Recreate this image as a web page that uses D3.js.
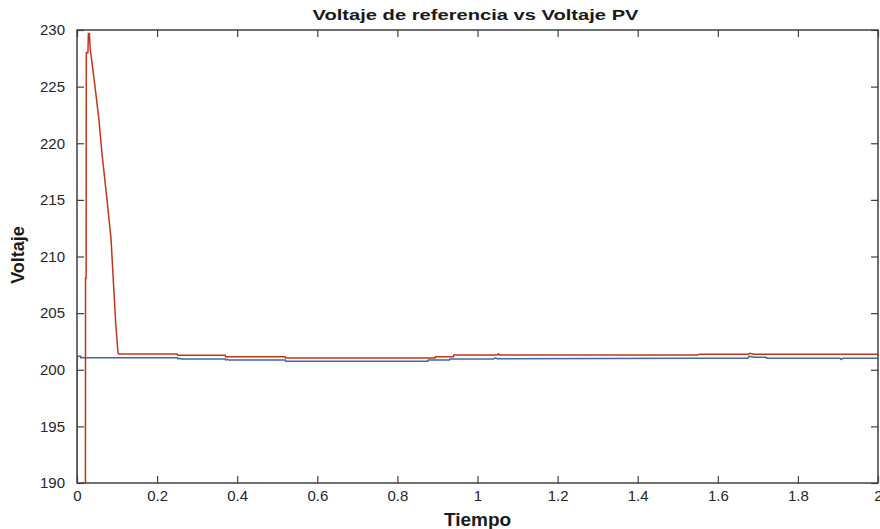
<!DOCTYPE html>
<html>
<head>
<meta charset="utf-8">
<script src="https://cdn.jsdelivr.net/npm/d3@7"></script>
<style>
  html, body { margin: 0; padding: 0; background: #fff; }
  svg { display: block; }
</style>
</head>
<body>
<svg id="chart" width="880" height="529"></svg>
<script>
// ---- data ----
const titleText = "Voltaje de referencia vs Voltaje PV";
const xLabel = "Tiempo";
const yLabel = "Voltaje";
const xTicks = [0, 0.2, 0.4, 0.6, 0.8, 1, 1.2, 1.4, 1.6, 1.8, 2];
const yTicks = [190, 195, 200, 205, 210, 215, 220, 225, 230];
const xDomain = [0, 2];
const yDomain = [190, 230];

// red series (time, voltage)
const redT = [0.021, 0.0213, 0.0228, 0.0232, 0.0272, 0.0285, 0.031, 0.033, 0.035, 0.045, 0.055, 0.0624, 0.0749, 0.0849, 0.0966, 0.1024, 0.104,
  0.25, 0.251, 0.37, 0.371, 0.52, 0.521, 0.894, 0.895, 0.94, 0.941, 1.05, 1.052, 1.055, 1.55, 1.555, 1.675, 1.68, 1.69, 2.0];
const redV = [185, 208.1, 208.1, 228.0, 228.0, 229.7, 229.7, 228.3, 227.8, 225.0, 222.0, 219.1, 215.0, 211.6, 204.1, 201.5, 201.39,
  201.39, 201.28, 201.28, 201.15, 201.15, 201.03, 201.03, 201.15, 201.15, 201.3, 201.3, 201.42, 201.3, 201.3, 201.36, 201.36, 201.45, 201.36, 201.36];

// blue series (time, voltage)
const blueT = [0, 0, 0.008, 0.009, 0.01, 0.012, 0.25, 0.252, 0.255, 0.26, 0.37, 0.372, 0.375, 0.378, 0.52, 0.521, 0.876, 0.877, 0.93, 0.931,
  1.04, 1.045, 1.05, 1.055, 1.06, 1.555, 1.675, 1.678, 1.69, 1.72, 1.722, 1.905, 1.908, 1.912, 2.0];
const blueV = [185, 201.2, 201.2, 201.1, 201.15, 201.06, 201.06, 200.97, 201.02, 200.95, 200.95, 200.86, 200.92, 200.86, 200.86, 200.75, 200.75, 200.86, 200.86, 200.95,
  200.95, 201.05, 200.95, 201.0, 200.98, 201.01, 201.01, 201.2, 201.1, 201.1, 201.01, 201.01, 200.9, 201.01, 201.01];

// ---- layout ----
const svg = d3.select("#chart");
const L = 77, R = 878, T = 30, B = 483;
const x = d3.scaleLinear().domain(xDomain).range([L, R]);
const y = d3.scaleLinear().domain(yDomain).range([B, T]);

svg.append("defs").append("clipPath").attr("id", "clip")
  .append("rect").attr("x", L).attr("y", T).attr("width", R - L).attr("height", B - T);

const axisColor = "#404040";
const textColor = "#262626";
const tickFont = "'Liberation Sans', Arial, sans-serif";

// lines
const line = d3.line().x(d => x(d[0])).y(d => y(d[1]));
const plot = svg.append("g").attr("clip-path", "url(#clip)");
plot.append("path").datum(blueT.map((t, i) => [t, blueV[i]]))
  .attr("d", line).attr("fill", "none").attr("stroke", "#4466a6").attr("stroke-width", 1.5);
plot.append("path").datum(redT.map((t, i) => [t, redV[i]]))
  .attr("d", line).attr("fill", "none").attr("stroke", "#c0361c").attr("stroke-width", 1.5);

// axes
function styleAxis(g) {
  g.select(".domain").remove();
  g.selectAll(".tick line").attr("stroke", axisColor).attr("stroke-width", 1.2);
  g.selectAll(".tick text").attr("fill", textColor).attr("font-family", tickFont).attr("font-size", 15);
}
const tl = 7;
const gBottom = svg.append("g").attr("transform", `translate(0,${B})`)
  .call(d3.axisBottom(x).tickValues(xTicks).tickFormat(d3.format("~g")).tickSizeInner(-tl).tickSizeOuter(0).tickPadding(7));
styleAxis(gBottom);
const gTop = svg.append("g").attr("transform", `translate(0,${T})`)
  .call(d3.axisTop(x).tickValues(xTicks).tickFormat("").tickSizeInner(-tl).tickSizeOuter(0));
styleAxis(gTop);
const gLeft = svg.append("g").attr("transform", `translate(${L},0)`)
  .call(d3.axisLeft(y).tickValues(yTicks).tickFormat(d3.format("d")).tickSizeInner(-tl).tickSizeOuter(0).tickPadding(12));
styleAxis(gLeft);
const gRight = svg.append("g").attr("transform", `translate(${R},0)`)
  .call(d3.axisRight(y).tickValues(yTicks).tickFormat("").tickSizeInner(-tl).tickSizeOuter(0));
styleAxis(gRight);

// box
svg.append("rect").attr("x", L).attr("y", T).attr("width", R - L).attr("height", B - T)
  .attr("fill", "none").attr("stroke", axisColor).attr("stroke-width", 1.5);

// title and labels
svg.append("text").attr("x", (L + R) / 2 - 2).attr("y", 20).attr("text-anchor", "middle")
  .attr("font-family", tickFont).attr("font-weight", "bold").attr("font-size", 15).attr("fill", "#1a1a1a")
  .attr("textLength", 326).attr("lengthAdjust", "spacingAndGlyphs")
  .text(titleText);
svg.append("text").attr("x", (L + R) / 2).attr("y", 526).attr("text-anchor", "middle")
  .attr("font-family", tickFont).attr("font-weight", "bold").attr("font-size", 19).attr("fill", "#1a1a1a")
  .text(xLabel);
svg.append("text").attr("transform", `translate(24,255) rotate(-90)`).attr("text-anchor", "middle")
  .attr("font-family", tickFont).attr("font-weight", "bold").attr("font-size", 18).attr("fill", "#1a1a1a")
  .text(yLabel);
</script>
</body>
</html>
